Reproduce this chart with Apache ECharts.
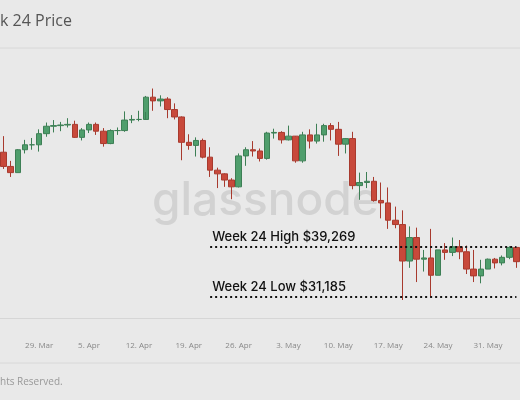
<!DOCTYPE html>
<html>
<head>
<meta charset="utf-8">
<script src="https://cdn.jsdelivr.net/npm/echarts@6/dist/echarts.min.js"></script>
<style>
  html, body { margin: 0; padding: 0; background: #e9e9e9; }
  #chart-container { width: 520px; height: 400px; }
</style>
</head>
<body>
<div id="chart-container"></div>
<script>
// Daily BTC price, 24 Mar - 4 Jun (thousands of USD)
var dates = ["24 Mar","25 Mar","26 Mar","27 Mar","28 Mar","29 Mar","30 Mar","31 Mar",
  "1 Apr","2 Apr","3 Apr","4 Apr","5 Apr","6 Apr","7 Apr","8 Apr","9 Apr","10 Apr",
  "11 Apr","12 Apr","13 Apr","14 Apr","15 Apr","16 Apr","17 Apr","18 Apr","19 Apr","20 Apr",
  "21 Apr","22 Apr","23 Apr","24 Apr","25 Apr","26 Apr","27 Apr","28 Apr","29 Apr","30 Apr",
  "1 May","2 May","3 May","4 May","5 May","6 May","7 May","8 May","9 May","10 May",
  "11 May","12 May","13 May","14 May","15 May","16 May","17 May","18 May","19 May","20 May",
  "21 May","22 May","23 May","24 May","25 May","26 May","27 May","28 May","29 May","30 May",
  "31 May","1 Jun","2 Jun","3 Jun","4 Jun"];
var firstOpen = 54.6;
var closes = [52.3,51.3,55.0,55.8,55.8,57.6,58.8,58.9,59.0,59.1,57.0,58.2,59.1,58.0,56.0,58.1,58.1,59.8,
  59.9,59.9,63.5,62.9,63.2,61.5,60.3,56.2,55.7,56.5,53.8,51.7,51.1,50.1,49.0,54.0,55.0,54.8,53.6,57.7,
  57.8,56.6,57.2,53.2,57.4,56.4,57.4,58.9,58.3,55.9,56.8,49.2,49.7,49.9,46.8,46.4,43.6,42.9,37.0,40.8,
  37.3,37.5,34.7,38.8,38.4,39.3,38.5,35.7,34.6,35.7,37.3,36.7,37.6,39.2,36.9];
var highs = [57.2,53.2,55.1,56.6,56.9,58.3,59.4,59.8,59.5,60.1,59.7,58.5,59.4,59.4,58.5,58.3,58.6,61.2,
  60.6,61.3,63.7,64.9,63.8,63.5,62.5,60.4,57.5,57.0,56.8,55.4,52.1,51.2,50.4,54.4,55.4,56.4,55.2,57.9,
  58.4,58.0,58.9,57.1,57.9,58.3,59.2,59.2,59.3,59.5,56.9,57.9,51.3,51.4,50.6,49.7,48.9,45.8,45.2,42.6,
  42.4,38.8,42.2,38.8,39.9,40.8,40.4,39.5,38.8,37.2,37.4,37.5,37.9,39.4,39.2];
var lows = [51.9,50.6,51.3,54.4,55.0,54.7,57.1,57.8,58.0,58.6,56.9,56.5,57.7,57.4,55.5,55.9,57.4,57.9,
  59.3,59.6,61.1,61.3,62.0,60.1,59.9,53.3,55.0,53.9,53.6,50.6,48.8,49.0,47.0,48.9,52.4,53.9,53.1,53.4,
  56.8,56.0,56.5,52.9,52.9,55.2,56.0,56.3,56.5,54.0,54.4,48.6,46.9,48.8,46.6,43.9,42.2,42.3,30.7,35.9,
  33.6,35.3,31.1,34.7,37.2,37.8,37.3,34.9,33.6,33.4,35.7,35.8,36.3,37.3,35.9];
var weekHigh = 39269;
var weekLow = 31185;
var tickDates = ["29 Mar","5 Apr","12 Apr","19 Apr","26 Apr","3 May","10 May","17 May","24 May","31 May"];

var candles = closes.map(function (c, i) {
  var o = i === 0 ? firstOpen : closes[i - 1];
  return [o * 1000, c * 1000, lows[i] * 1000, highs[i] * 1000];
});

var myChart = echarts.init(document.getElementById("chart-container"));

var option = {
  backgroundColor: "#e9e9e9",
  animation: false,
  grid: { left: -8, right: -5, top: 50, bottom: 82 },
  graphic: [
    { type: "text", left: 0, top: 13, style: { text: "k 24 Price", font: "16px 'Open Sans', sans-serif", fill: "#555" } },
    { type: "line", shape: { x1: 0, y1: 48, x2: 520, y2: 48 }, style: { stroke: "#d8d8d8", lineWidth: 1 } },
    { type: "line", shape: { x1: 0, y1: 363, x2: 520, y2: 363 }, style: { stroke: "#d8d8d8", lineWidth: 1 } },
    { type: "text", left: 0, top: 377, style: { text: "hts Reserved.", font: "10px 'Open Sans', sans-serif", fill: "#999" } },
    { type: "text", left: 152, top: 178, z: 0, style: { text: "glassnode", font: "500 46px Inter, sans-serif", fill: "#d2d2d2" } }
  ],
  xAxis: {
    type: "category",
    data: dates,
    boundaryGap: true,
    axisLine: { lineStyle: { color: "#d6d6d6" } },
    axisTick: { show: false },
    axisLabel: {
      interval: function (i, v) { return tickDates.indexOf(v) >= 0; },
      formatter: function (v) { var p = v.split(" "); return p[0] + ". " + p[1]; },
      color: "#888", fontSize: 8, margin: 24, fontFamily: "Open Sans"
    }
  },
  yAxis: { type: "value", min: 27788, max: 71130, show: false, splitLine: { show: false } },
  series: [{
    type: "candlestick",
    data: candles,
    barWidth: 6,
    z: 3,
    itemStyle: {
      color: "#4f9e6c", color0: "#c8493b",
      borderColor: "#3d7f55", borderColor0: "#a83a2e", borderWidth: 1
    },
    markLine: {
      symbol: "none",
      silent: true,
      lineStyle: { type: [2, 3], color: "#111", width: 2 },
      label: {
        position: "insideStartTop", color: "#111", fontSize: 13, fontWeight: 500,
        fontFamily: "Inter", distance: [2, 3]
      },
      data: [
        [{ coord: ["22 Apr", weekHigh], label: { formatter: "Week 24 High $39,269" } }, { coord: ["4 Jun", weekHigh] }],
        [{ coord: ["22 Apr", weekLow], label: { formatter: "Week 24 Low $31,185" } }, { coord: ["4 Jun", weekLow] }]
      ]
    }
  }]
};

myChart.setOption(option);
</script>
</body>
</html>
